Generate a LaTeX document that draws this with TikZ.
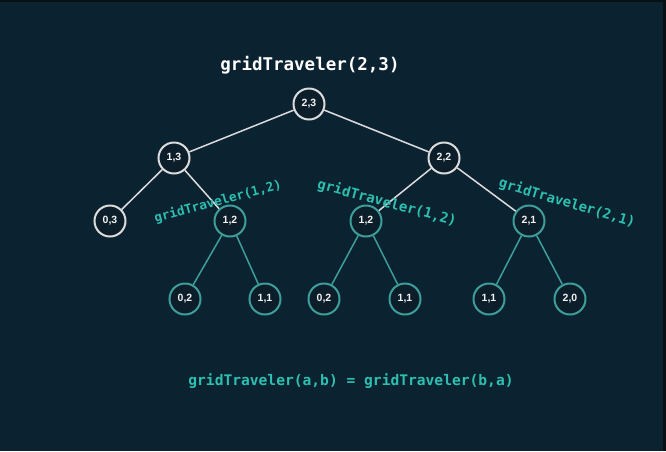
\documentclass[tikz,border=0pt]{standalone}
\usepackage{fontspec}
\setmainfont{Liberation Sans}
\newfontfamily\codefont{DejaVu Sans Mono}
\definecolor{bgc}{HTML}{0B2331}
\definecolor{nodefill}{HTML}{0C1E2A}
\definecolor{wline}{HTML}{DCDCDC}
\definecolor{tline}{HTML}{3E9E9C}
\definecolor{ttext}{HTML}{2DBFB0}
\definecolor{edgedark}{HTML}{0A0F14}
\begin{document}
\begin{tikzpicture}[x=1pt,y=-1pt,
  wnode/.style={circle,draw=wline,line width=2pt,fill=nodefill,minimum size=31pt,inner sep=0pt,
    text=white!90!gray,font=\bfseries\fontsize{10.5}{12}\selectfont},
  tnode/.style={wnode,draw=tline},
  wedge/.style={draw=wline,line width=1.5pt},
  tedge/.style={draw=tline,line width=1.5pt},
  codelbl/.style={text=ttext,font=\codefont\bfseries\fontsize{13.5}{15}\selectfont,inner sep=0pt},
]
\fill[bgc] (0,0) rectangle (666,451);
\fill[edgedark] (0,0) rectangle (666,1.5);
\fill[edgedark] (663,0) rectangle (666,451);

\node[text=white,font=\codefont\bfseries\fontsize{17.5}{20}\selectfont,inner sep=0pt] (title) at (310,65) {gridTraveler(2,3)};

\node[wnode] (n23) at (309,104) {2,3};
\node[wnode] (n13) at (174,158) {1,3};
\node[wnode] (n22) at (444,158) {2,2};
\node[wnode] (n03) at (110,221) {0,3};
\node[tnode] (n12a) at (230,221) {1,2};
\node[tnode] (n12b) at (366,221) {1,2};
\node[tnode] (n21) at (529,221) {2,1};
\node[tnode] (l1) at (185,299) {0,2};
\node[tnode] (l2) at (265,299) {1,1};
\node[tnode] (l3) at (324,299) {0,2};
\node[tnode] (l4) at (405,299) {1,1};
\node[tnode] (l5) at (489,299) {1,1};
\node[tnode] (l6) at (570,299) {2,0};

\draw[wedge] (n23) -- (n13);
\draw[wedge] (n23) -- (n22);
\draw[wedge] (n13) -- (n03);
\draw[wedge] (n13) -- (n12a);
\draw[wedge] (n22) -- (n12b);
\draw[wedge] (n22) -- (n21);
\draw[tedge] (n12a) -- (l1);
\draw[tedge] (n12a) -- (l2);
\draw[tedge] (n12b) -- (l3);
\draw[tedge] (n12b) -- (l4);
\draw[tedge] (n21) -- (l5);
\draw[tedge] (n21) -- (l6);

\node[codelbl,rotate=15,font=\codefont\bfseries\fontsize{12.8}{15}\selectfont] (lab1) at (218,202) {gridTraveler(1,2)};
\node[codelbl,rotate=-15,font=\codefont\bfseries\fontsize{14}{16}\selectfont] (lab2) at (387,203) {gridTraveler(1,2)};
\node[codelbl,rotate=-16.5,font=\codefont\bfseries\fontsize{13.8}{16}\selectfont] (lab3) at (567,203) {gridTraveler(2,1)};

\node[text=ttext,font=\codefont\bfseries\fontsize{14.6}{17}\selectfont,inner sep=0pt] (eq) at (351,381) {gridTraveler(a,b) = gridTraveler(b,a)};
\end{tikzpicture}
\end{document}
